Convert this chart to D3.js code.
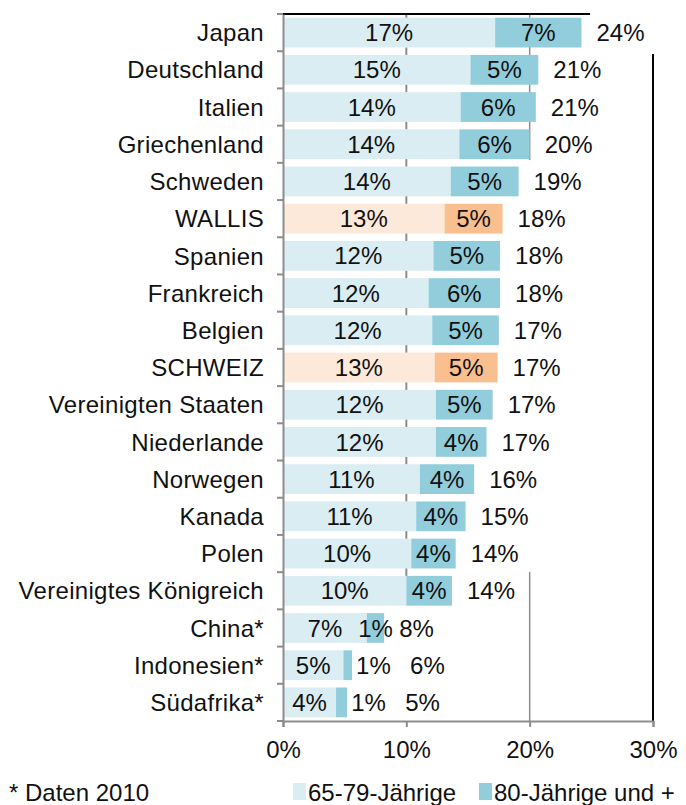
<!DOCTYPE html>
<html>
<head>
<meta charset="utf-8">
<script src="https://cdn.jsdelivr.net/npm/d3@7"></script>
<style>
  body { margin: 0; background: #fff; }
  text { font-family: "Liberation Sans", Arial, sans-serif; fill: #111; }
</style>
</head>
<body>
<div id="chart"></div>
<script>
// data (percent of population)
var countries = ["Japan", "Deutschland", "Italien", "Griechenland", "Schweden", "WALLIS",
  "Spanien", "Frankreich", "Belgien", "SCHWEIZ", "Vereinigten Staaten", "Niederlande",
  "Norwegen", "Kanada", "Polen", "Vereinigtes Königreich", "China*", "Indonesien*", "Südafrika*"];
var young = [17.2, 15.2, 14.4, 14.3, 13.6, 13.1, 12.2, 11.8, 12.1, 12.3, 12.4, 12.4, 11.1, 10.8, 10.4, 10.0, 6.8, 4.9, 4.3];
var old = [7.0, 5.5, 6.1, 5.7, 5.5, 4.7, 5.4, 5.8, 5.4, 5.1, 4.6, 4.1, 4.4, 4.0, 3.6, 3.7, 1.4, 0.7, 0.9];
// printed labels
var youngLabels = ["17%", "15%", "14%", "14%", "14%", "13%", "12%", "12%", "12%", "13%", "12%", "12%", "11%", "11%", "10%", "10%", "7%", "5%", "4%"];
var oldLabels = ["7%", "5%", "6%", "6%", "5%", "5%", "5%", "6%", "5%", "5%", "5%", "4%", "4%", "4%", "4%", "4%", "1%", "1%", "1%"];
var totalLabels = ["24%", "21%", "21%", "20%", "19%", "18%", "18%", "18%", "17%", "17%", "17%", "17%", "16%", "15%", "14%", "14%", "8%", "6%", "5%"];
var highlighted = ["WALLIS", "SCHWEIZ"];
var seriesNames = ["65-79-Jährige", "80-Jährige und +"];
var xTicks = [0, 10, 20, 30];

var svgWidth = 686, svgHeight = 805;
var margin = { top: 14, right: 33, bottom: 84, left: 283 };
var width = svgWidth - margin.left - margin.right;
var height = svgHeight - margin.top - margin.bottom;

var colors = {
  young: "#daedf3", old: "#92cddc",
  youngHi: "#fde9d9", oldHi: "#fabf8f"
};
var grey = "#8c8c8c";
var fs = 24;

var svg = d3.select("#chart").append("svg")
  .attr("width", svgWidth)
  .attr("height", svgHeight);

var chartGroup = svg.append("g")
  .attr("transform", `translate(${margin.left}, ${margin.top})`);

var xScale = d3.scaleLinear().domain([0, 30]).range([0, width]);
var yScale = d3.scaleBand().domain(countries).range([0, height]).paddingInner(0.2).paddingOuter(0.1);

var rows = countries.map(function(c, i) {
  return { name: c, young: young[i], old: old[i], total: young[i] + old[i],
    yl: youngLabels[i], ol: oldLabels[i], tl: totalLabels[i],
    hi: highlighted.indexOf(c) >= 0 };
});

// band boundaries (gaps between bars)
var bounds = countries.map(d => yScale(d) - yScale.step() * yScale.paddingInner() / 2);
bounds.push(height);

// gridline at 10%, only visible in the gaps down to the UK row
chartGroup.selectAll(".grid10")
  .data(bounds.slice(0, countries.indexOf("Vereinigtes Königreich") + 1))
  .enter()
  .append("line")
  .attr("x1", xScale(10)).attr("x2", xScale(10))
  .attr("y1", d => Math.max(0, d - 4)).attr("y2", d => d + 4)
  .attr("stroke", grey).attr("stroke-width", 2);

// 20% line, partly hidden as in the picture
chartGroup.append("line")
  .attr("x1", xScale(20)).attr("x2", xScale(20))
  .attr("y1", 0).attr("y2", yScale("Griechenland") + yScale.bandwidth() + 1)
  .attr("stroke", grey).attr("stroke-width", 1.5);
chartGroup.append("line")
  .attr("x1", xScale(20)).attr("x2", xScale(20))
  .attr("y1", yScale("Vereinigtes Königreich") - 4).attr("y2", height)
  .attr("stroke", grey).attr("stroke-width", 1.5);

// black frame pieces
chartGroup.append("line")
  .attr("x1", 0).attr("x2", xScale(24.9))
  .attr("y1", 0).attr("y2", 0)
  .attr("stroke", "#000").attr("stroke-width", 2);
chartGroup.append("line")
  .attr("x1", xScale(30)).attr("x2", xScale(30))
  .attr("y1", yScale("Deutschland") - 1).attr("y2", height)
  .attr("stroke", "#000").attr("stroke-width", 2);

// bars
var rowGroups = chartGroup.selectAll(".row")
  .data(rows)
  .enter()
  .append("g")
  .attr("class", "row")
  .attr("transform", d => `translate(0, ${yScale(d.name)})`);

rowGroups.append("rect")
  .attr("x", xScale(0))
  .attr("y", 0)
  .attr("width", d => xScale(d.young) - xScale(0))
  .attr("height", yScale.bandwidth())
  .attr("fill", d => d.hi ? colors.youngHi : colors.young);

rowGroups.append("rect")
  .attr("x", d => xScale(d.young))
  .attr("y", 0)
  .attr("width", d => xScale(d.total) - xScale(d.young))
  .attr("height", yScale.bandwidth())
  .attr("fill", d => d.hi ? colors.oldHi : colors.old);

var mid = yScale.bandwidth() / 2;

function narrow(d) {
  return xScale(d.total) - xScale(d.young) < 14;
}

rowGroups.append("text")
  .attr("x", d => (xScale(0) + xScale(d.young)) / 2)
  .attr("y", mid)
  .attr("dy", "0.36em")
  .attr("text-anchor", "middle")
  .attr("font-size", fs)
  .text(d => d.yl);

rowGroups.append("text")
  .attr("x", d => narrow(d) ? xScale(d.total) + 4 : (xScale(d.young) + xScale(d.total)) / 2)
  .attr("y", mid)
  .attr("dy", "0.36em")
  .attr("text-anchor", d => narrow(d) ? "start" : "middle")
  .attr("font-size", fs)
  .text(d => d.ol);

rowGroups.append("text")
  .attr("x", d => xScale(d.total) + (narrow(d) ? 58 : 15))
  .attr("y", mid)
  .attr("dy", "0.36em")
  .attr("font-size", fs)
  .text(d => d.tl);

// axes
var yAxis = d3.axisLeft(yScale).tickSize(0).tickPadding(19);
var yAxisG = chartGroup.append("g").call(yAxis);
yAxisG.select(".domain").attr("stroke", grey).attr("stroke-width", 2);
yAxisG.selectAll("text").attr("font-size", fs).attr("fill", "#111").attr("letter-spacing", "0.3px").attr("dy", "0.36em");

// band boundary ticks on the left axis
chartGroup.selectAll(".ytick")
  .data(bounds)
  .enter()
  .append("line")
  .attr("x1", -6).attr("x2", 0)
  .attr("y1", d => d).attr("y2", d => d)
  .attr("stroke", grey).attr("stroke-width", 2);

var xAxis = d3.axisBottom(xScale).tickValues(xTicks).tickFormat(d => d + "%").tickSize(6).tickPadding(14);
var xAxisG = chartGroup.append("g")
  .attr("transform", `translate(0, ${height})`)
  .call(xAxis);
xAxisG.select(".domain").attr("stroke", grey).attr("stroke-width", 2);
xAxisG.selectAll(".tick line").attr("stroke", grey).attr("stroke-width", 2);
xAxisG.selectAll("text").attr("font-size", fs).attr("fill", "#111");

// legend
var legend = svg.append("g").attr("transform", "translate(293, 783)");
var legendX = [0, 186];
seriesNames.forEach(function(name, i) {
  legend.append("rect")
    .attr("x", legendX[i]).attr("y", 0)
    .attr("width", 13).attr("height", 17)
    .attr("fill", i === 0 ? colors.young : colors.old);
  legend.append("text")
    .attr("x", legendX[i] + 15).attr("y", 18)
    .attr("font-size", fs)
    .text(name);
});

svg.append("text")
  .attr("x", 9).attr("y", 801)
  .attr("font-size", fs)
  .text("* Daten 2010");
</script>
</body>
</html>
